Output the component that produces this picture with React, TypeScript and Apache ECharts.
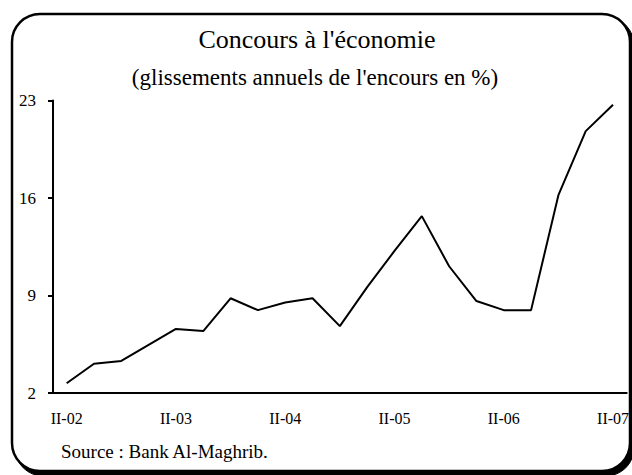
import React, { useEffect, useRef } from "react";
import * as echarts from "echarts";

const categories = [
  "II-02", "III-02", "IV-02", "I-03",
  "II-03", "III-03", "IV-03", "I-04",
  "II-04", "III-04", "IV-04", "I-05",
  "II-05", "III-05", "IV-05", "I-06",
  "II-06", "III-06", "IV-06", "I-07",
  "II-07",
];
const values = [
  2.7, 4.1, 4.3, 5.45,
  6.6, 6.45, 8.8, 7.95,
  8.5, 8.8, 6.8, 9.6,
  12.2, 14.7, 11.1, 8.6,
  7.95, 7.95, 16.2, 20.8,
  22.7,
];
const yTicks = [2, 9, 16, 23];
const titleText = "Concours à l'économie";
const subtitleText = "(glissements annuels de l'encours en %)";
const sourceText = "Source : Bank Al-Maghrib.";

const FONT = "Times New Roman";

export default function App() {
  const ref = useRef<HTMLDivElement>(null);
  useEffect(() => {
    if (!ref.current) return;
    const chart = echarts.init(ref.current, null, { renderer: "svg" });
    chart.setOption({
      animation: false,
      backgroundColor: "#ffffff",
      textStyle: { fontFamily: FONT, color: "#000" },
      graphic: [
        {
          type: "rect",
          z: -20,
          silent: true,
          shape: { x: 15, y: 17, width: 619, height: 459, r: 28 },
          style: { fill: "#000", stroke: "#000" },
        },
        {
          type: "rect",
          z: -10,
          silent: true,
          shape: { x: 12, y: 14, width: 618, height: 457, r: 28 },
          style: { fill: "#fff", stroke: "#000", lineWidth: 2.5 },
        },
        {
          type: "text",
          x: 317,
          y: 39,
          style: {
            text: titleText,
            fontFamily: FONT,
            fontSize: 26,
            fill: "#000",
            align: "center",
            verticalAlign: "middle",
          },
        },
        {
          type: "text",
          x: 315,
          y: 77,
          style: {
            text: subtitleText,
            fontFamily: FONT,
            fontSize: 23,
            fill: "#000",
            align: "center",
            verticalAlign: "middle",
          },
        },
        {
          type: "text",
          x: 61,
          y: 451,
          style: {
            text: sourceText,
            fontFamily: FONT,
            fontSize: 19,
            fill: "#000",
            verticalAlign: "middle",
          },
        },
      ],
      grid: { left: 53, right: 4, top: 100.5, bottom: 82, containLabel: false },
      xAxis: {
        type: "category",
        data: categories,
        boundaryGap: true,
        axisLine: { lineStyle: { color: "#000", width: 2 } },
        axisTick: { interval: 3, length: 5, lineStyle: { color: "#000", width: 2 } },
        axisLabel: { interval: 3, margin: 17, fontFamily: FONT, fontSize: 16, color: "#000" },
        splitLine: { show: false },
      },
      yAxis: {
        type: "value",
        min: yTicks[0],
        max: yTicks[yTicks.length - 1],
        interval: 7,
        axisLine: { show: true, lineStyle: { color: "#000", width: 2 } },
        axisTick: { show: true, length: 5, lineStyle: { color: "#000", width: 2 } },
        axisLabel: { margin: 17, fontFamily: FONT, fontSize: 17, color: "#000" },
        splitLine: { show: false },
      },
      series: [
        {
          type: "line",
          data: values,
          showSymbol: false,
          symbol: "none",
          lineStyle: { color: "#000", width: 2 },
          z: 5,
        },
      ],
    });
    return () => chart.dispose();
  }, []);
  return (
    <div
      ref={ref}
      style={{ position: "fixed", left: 0, top: 0, width: 632, height: 475 }}
    />
  );
}
